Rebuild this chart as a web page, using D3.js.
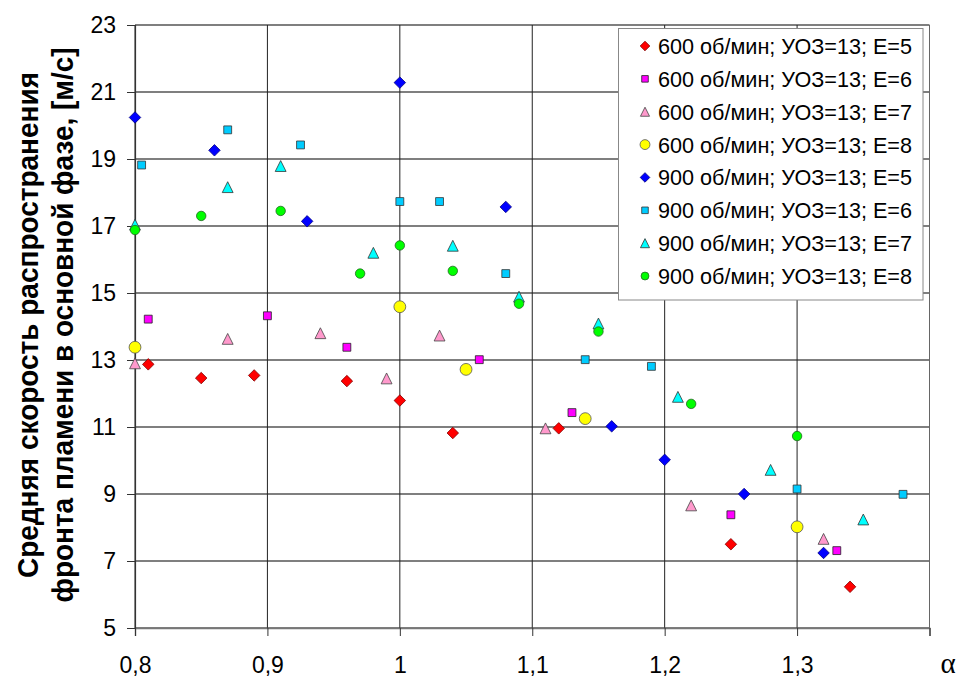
<!DOCTYPE html>
<html><head><meta charset="utf-8">
<script src="https://cdn.jsdelivr.net/npm/d3@7"></script>
<style>
html,body{margin:0;padding:0;background:#fff;}
svg{display:block;font-family:Arial,"Liberation Sans",sans-serif;}
</style></head>
<body><svg id="c" width="962" height="681"></svg>
<script>
// ---- data ----
const xTicks = [0.8, 0.9, 1.0, 1.1, 1.2, 1.3, 1.4];
const xTickLabels = ["0,8", "0,9", "1", "1,1", "1,2", "1,3", ""];
const yTicks = [5, 7, 9, 11, 13, 15, 17, 19, 21, 23];
const yTitle1 = "Средняя скорость распространения";
const yTitle2 = "фронта пламени в основной фазе, [м/с]";
const xTitle = "α";
const seriesNames = [
  "600 об/мин; УОЗ=13; Е=5",
  "600 об/мин; УОЗ=13; Е=6",
  "600 об/мин; УОЗ=13; Е=7",
  "600 об/мин; УОЗ=13; Е=8",
  "900 об/мин; УОЗ=13; Е=5",
  "900 об/мин; УОЗ=13; Е=6",
  "900 об/мин; УОЗ=13; Е=7",
  "900 об/мин; УОЗ=13; Е=8"
];
const s600e5 = [[0.81,12.87],[0.85,12.46],[0.89,12.54],[0.96,12.37],[1.00,11.79],[1.04,10.82],[1.12,10.96],[1.25,7.50],[1.34,6.23]];
const s600e6 = [[0.81,14.22],[0.90,14.32],[0.96,13.38],[1.06,13.01],[1.13,11.43],[1.25,8.38],[1.33,7.31]];
const s600e7 = [[0.80,12.90],[0.87,13.63],[0.94,13.80],[0.99,12.45],[1.03,13.73],[1.11,10.96],[1.22,8.66],[1.32,7.66]];
const s600e8 = [[0.80,13.38],[1.00,14.59],[1.05,12.72],[1.14,11.25],[1.30,8.02]];
const s900e5 = [[0.80,20.24],[0.86,19.26],[0.93,17.14],[1.00,21.28],[1.08,17.57],[1.16,11.02],[1.20,10.02],[1.26,9.00],[1.32,7.24]];
const s900e6 = [[0.805,18.82],[0.87,19.87],[0.925,19.42],[1.00,17.73],[1.03,17.73],[1.08,15.58],[1.14,13.01],[1.19,12.81],[1.30,9.15],[1.38,8.99]];
const s900e7 = [[0.80,17.04],[0.87,18.16],[0.91,18.79],[0.98,16.20],[1.04,16.41],[1.09,14.89],[1.15,14.09],[1.21,11.90],[1.28,9.72],[1.35,8.24]];
const s900e8 = [[0.80,16.88],[0.85,17.30],[0.91,17.45],[0.97,15.58],[1.00,16.42],[1.04,15.66],[1.09,14.68],[1.15,13.85],[1.22,11.69],[1.30,10.73]];
const seriesData = [s600e5, s600e6, s600e7, s600e8, s900e5, s900e6, s900e7, s900e8];

// ---- styles ----
const triShape = {draw(ctx, size){ const h = Math.sqrt(size); ctx.moveTo(0,-h/2); ctx.lineTo(h/2,h/2); ctx.lineTo(-h/2,h/2); ctx.closePath(); }};
const diaShape = {draw(ctx, size){ const r = Math.sqrt(size)/2; ctx.moveTo(0,-r); ctx.lineTo(r,0); ctx.lineTo(0,r); ctx.lineTo(-r,0); ctx.closePath(); }};
const styles = [
  {type: diaShape, size: 132, fill: "#FF0000", stroke: "#800000"},
  {type: d3.symbolSquare, size: 62, fill: "#FF00FF", stroke: "#222"},
  {type: triShape, size: 118, fill: "#FF99CC", stroke: "#444"},
  {type: d3.symbolCircle, size: 110, fill: "#FFFF00", stroke: "#555"},
  {type: diaShape, size: 132, fill: "#0000FF", stroke: "#000080"},
  {type: d3.symbolSquare, size: 62, fill: "#00CCFF", stroke: "#333"},
  {type: triShape, size: 118, fill: "#00FFFF", stroke: "#333"},
  {type: d3.symbolCircle, size: 70, fill: "#00FF00", stroke: "#226622"}
];

const svg = d3.select("#c");
const L = 135, R = 929.5, T = 25, B = 628;
const x = d3.scaleLinear().domain([0.8, 1.4]).range([L, R]);
const y = d3.scaleLinear().domain([5, 23]).range([B, T]);

// gridlines
svg.append("g").selectAll("line").data(yTicks).join("line")
  .attr("x1", L).attr("x2", R).attr("y1", d => y(d)).attr("y2", d => y(d))
  .attr("stroke", "#555").attr("stroke-width", 1.3);
svg.append("g").selectAll("line").data(xTicks).join("line")
  .attr("x1", d => x(d)).attr("x2", d => x(d)).attr("y1", T).attr("y2", B)
  .attr("stroke", d => d === 1.4 ? "#666" : "#222").attr("stroke-width", 1);

// axes
const fmtX = d => xTickLabels[xTicks.indexOf(d)];
const gx = svg.append("g").attr("transform", `translate(0,${B})`)
  .call(d3.axisBottom(x).tickValues(xTicks).tickFormat(fmtX).tickSize(8).tickPadding(21));
const gy = svg.append("g").attr("transform", `translate(${L},0)`)
  .call(d3.axisLeft(y).tickValues(yTicks).tickFormat(d3.format("d")).tickSize(8).tickPadding(11));
[gx, gy].forEach(g => {
  g.select(".domain").attr("stroke", "#333").attr("stroke-width", 1.2);
  g.selectAll(".tick line").attr("stroke", "#333");
  g.selectAll(".tick text").attr("fill", "#000").attr("font-size", 23)
    .attr("font-family", "Arial, 'Liberation Sans', sans-serif");
});
gx.select(".domain").attr("stroke", "#777").attr("stroke-width", 1.5);

// axis titles
const tg = svg.append("g").attr("transform", "translate(0,325) rotate(-90)");
tg.append("text").attr("x", 0).attr("y", 38).attr("text-anchor", "middle")
  .attr("font-weight", "bold").attr("font-size", 30)
  .attr("textLength", 506).attr("lengthAdjust", "spacingAndGlyphs").text(yTitle1);
tg.append("text").attr("x", 0).attr("y", 73).attr("text-anchor", "middle")
  .attr("font-weight", "bold").attr("font-size", 30)
  .attr("textLength", 555).attr("lengthAdjust", "spacingAndGlyphs").text(yTitle2);
svg.append("text").attr("x", 948).attr("y", 673).attr("text-anchor", "middle")
  .attr("font-family", "'Liberation Serif', 'DejaVu Serif', serif").attr("font-size", 29)
  .text(xTitle);

// points
seriesData.forEach((data, i) => {
  const st = styles[i];
  const sym = d3.symbol().type(st.type).size(st.size);
  svg.append("g").selectAll("path").data(data).join("path")
    .attr("transform", d => `translate(${x(d[0])},${y(d[1])})`)
    .attr("d", sym).attr("fill", st.fill).attr("stroke", st.stroke).attr("stroke-width", 0.8);
});

// legend
const lg = svg.append("g");
lg.append("rect").attr("x", 618.5).attr("y", 28.5).attr("width", 304.5).attr("height", 271.5)
  .attr("fill", "#fff").attr("stroke", "#888").attr("stroke-width", 1);
seriesNames.forEach((name, i) => {
  const cy = 46 + i * 32.86;
  const st = styles[i];
  lg.append("path").attr("transform", `translate(645,${cy})`)
    .attr("d", d3.symbol().type(st.type).size(st.size * 0.7)())
    .attr("fill", st.fill).attr("stroke", st.stroke).attr("stroke-width", 0.8);
  lg.append("text").attr("x", 658).attr("y", cy + 8).attr("font-size", 22).attr("fill", "#000")
    .attr("textLength", 254).attr("lengthAdjust", "spacingAndGlyphs").text(name);
});
</script></body></html>
